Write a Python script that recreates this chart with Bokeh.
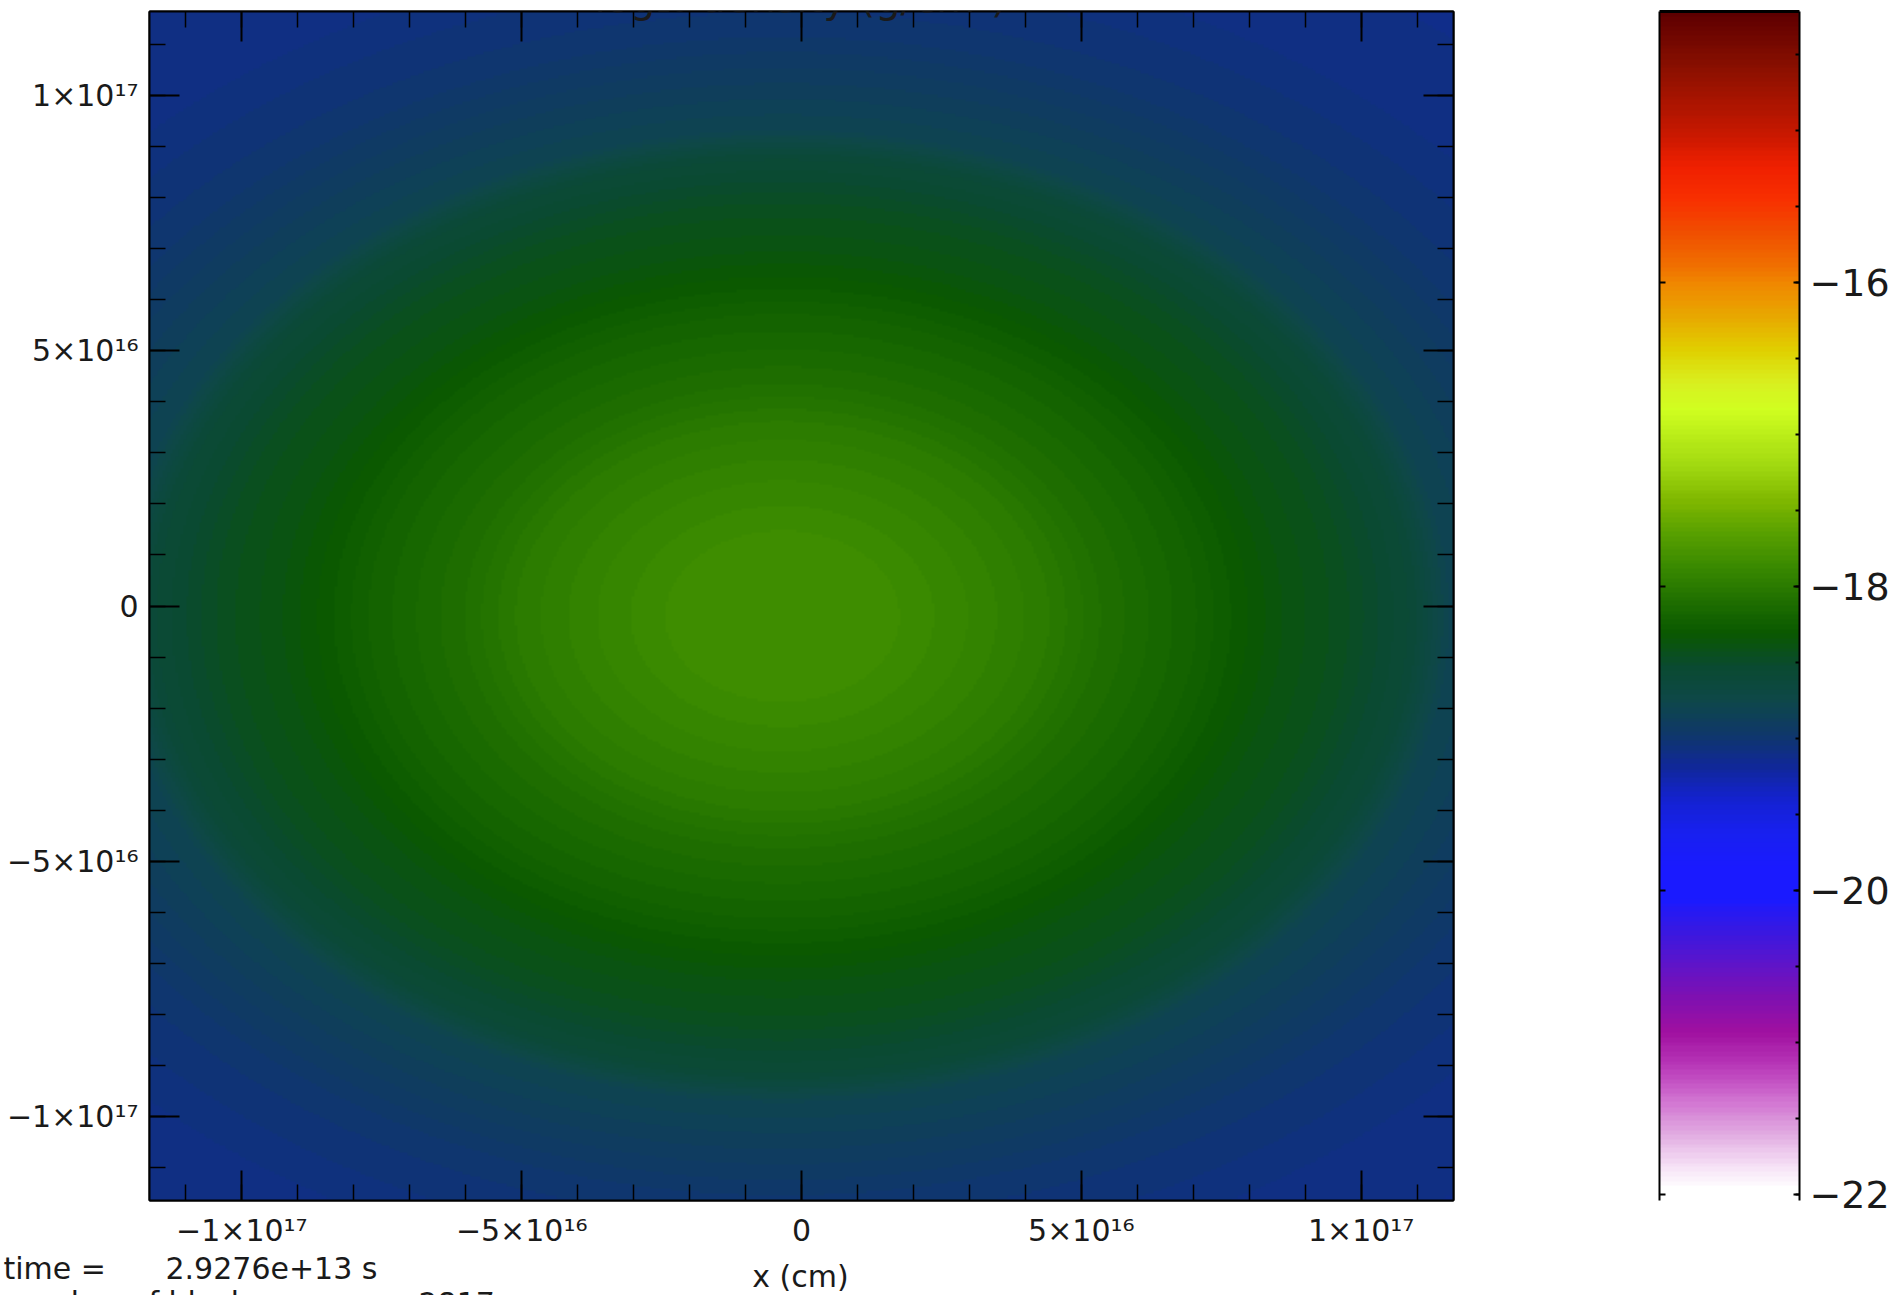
import numpy as np
from bokeh.plotting import figure
from bokeh.models import (LinearColorMapper, LinearAxis, FixedTicker,
                          CustomJSTickFormatter, Label, Range1d)
from bokeh.layouts import row, column
from bokeh.embed import file_html
from bokeh.resources import INLINE

# ---------------- data ----------------
title_text = "log₁₀ density (g/cm³)"
x_label = "x (cm)"
time_label = "time ="
time_value = "2.9276e+13 s"
blocks_label = "number of blocks ="
blocks_value = "2817"

extent = 1.165e17            # half width of the shown domain (cm)
center_x = -3.4e15           # centre of the density peak (cm)
center_y = -2.0e15
axis_ratio = 1.25            # x semi-axis / y semi-axis of iso-density ellipses

# log10 density along the (x-equivalent) elliptical radius
profile_r = [0.0, 2.0e16, 3.4e16, 4.7e16, 5.7e16, 7.4e16, 9.0e16,
             1.0e17, 1.13e17, 1.19e17, 1.44e17, 1.65e17, 1.95e17]
profile_logrho = [-17.84, -17.85, -17.92, -18.00, -18.10, -18.22, -18.38,
                  -18.45, -18.60, -18.80, -19.00, -19.08, -19.12]

tick_values = [-1e17, -5e16, 0.0, 5e16, 1e17]
tick_labels = ["−1×10¹⁷", "−5×10¹⁶", "0", "5×10¹⁶", "1×10¹⁷"]
minor_values = [-1.1e17, -1.0e17, -9e16, -8e16, -7e16, -6e16, -5e16, -4e16,
                -3e16, -2e16, -1e16, 0.0, 1e16, 2e16, 3e16, 4e16, 5e16,
                6e16, 7e16, 8e16, 9e16, 1.0e17, 1.1e17]

cbar_low, cbar_high = -22.04, -14.22
cbar_ticks = [-22, -20, -18, -16]
cbar_tick_labels = ["−22", "−20", "−18", "−16"]
cbar_minor = [-22.0, -21.5, -21.0, -20.5, -20.0, -19.5, -19.0, -18.5, -18.0,
              -17.5, -17.0, -16.5, -16.0, -15.5, -15.0, -14.5]

# ---------------- colour table (style) ----------------
anchors = [
    (-22.05, "#ffffff"), (-21.98, "#ffffff"), (-21.83, "#f5e0f5"),
    (-21.61, "#e0a8e0"), (-21.39, "#d070d0"), (-21.17, "#b838b8"),
    (-20.95, "#a010a0"), (-20.73, "#8010b0"), (-20.51, "#6014c8"),
    (-20.29, "#3a18e0"), (-20.07, "#1a1aff"), (-19.87, "#1a1aff"),
    (-19.63, "#1820f0"), (-19.41, "#1422d0"), (-19.19, "#102898"),
    (-18.97, "#0f3868"), (-18.75, "#0e4848"), (-18.53, "#0a4a30"),
    (-18.31, "#0a5800"), (-18.09, "#207000"), (-17.87, "#3a8a00"),
    (-17.65, "#58a000"), (-17.43, "#80b800"), (-17.21, "#a0d810"),
    (-16.83, "#d0ff20"), (-16.66, "#d8f020"), (-16.44, "#e0d000"),
    (-16.22, "#e8a800"), (-16.00, "#f08800"), (-15.89, "#f07000"),
    (-15.67, "#f05000"), (-15.45, "#f83000"), (-15.23, "#f02000"),
    (-15.01, "#c81800"), (-14.57, "#8a1000"), (-14.23, "#600000"),
    (-14.20, "#580000"),
]


def hex2rgb(h):
    return [int(h[i:i + 2], 16) for i in (1, 3, 5)]


av = np.array([a[0] for a in anchors])
ac = np.array([hex2rgb(a[1]) for a in anchors], dtype=float)
levels = np.linspace(cbar_low, cbar_high, 256)
palette = []
for v in levels:
    r, g, b = (int(round(np.interp(v, av, ac[:, k]))) for k in range(3))
    palette.append("#%02x%02x%02x" % (r, g, b))

mapper = LinearColorMapper(palette=palette, low=cbar_low, high=cbar_high)

# ---------------- field ----------------
N = 500
xs = np.linspace(-extent, extent, N)
ys = np.linspace(-extent, extent, N)
X, Y = np.meshgrid(xs, ys)
R = np.hypot(X - center_x, (Y - center_y) * axis_ratio)
Z = np.interp(R, profile_r, profile_logrho)

# ---------------- layout constants ----------------
FONT = "DejaVu Sans"
TXT = "#1a1a1a"
PAGE_W, PAGE_H = 1899, 1295
FIG_H = 1250
BL, BR, BT = 149, 17, 11
FW, FH = 1304, 1189
BB = FIG_H - BT - FH
W1 = BL + FW + BR


def sx(px):  # page x -> data x of the main plot
    return -extent + (px - BL) * (2 * extent) / FW


def sy(py):  # page y -> data y of the main plot
    return extent - (py - BT) * (2 * extent) / FH


p = figure(width=W1, height=FIG_H,
           x_range=Range1d(-extent, extent), y_range=Range1d(-extent, extent),
           x_axis_type=None, y_axis_type=None,
           min_border_left=BL, min_border_right=BR,
           min_border_top=BT, min_border_bottom=BB,
           output_backend="svg", toolbar_location=None)
p.grid.visible = False
p.outline_line_color = "black"
p.outline_line_width = 2
p.background_fill_color = "white"
p.border_fill_color = "white"

p.image(image=[Z], x=-extent, y=-extent, dw=2 * extent, dh=2 * extent,
        color_mapper=mapper)

fmt_code = ("const i = vals.findIndex(v => Math.abs(v - tick) < 1e12);"
            "return i >= 0 ? labs[i] : '';")


def make_axis(show_labels):
    ax = LinearAxis(ticker=FixedTicker(ticks=tick_values, minor_ticks=minor_values),
                    formatter=CustomJSTickFormatter(args=dict(vals=tick_values, labs=tick_labels),
                                                    code=fmt_code))
    ax.major_tick_in = 30
    ax.major_tick_out = 0
    ax.minor_tick_in = 16
    ax.minor_tick_out = 0
    ax.axis_line_color = "black"
    ax.axis_line_width = 2
    ax.major_tick_line_color = "black"
    ax.major_tick_line_width = 2
    ax.minor_tick_line_color = "black"
    ax.minor_tick_line_width = 1.5
    ax.major_label_text_font = FONT
    ax.major_label_text_color = TXT
    if show_labels:
        ax.major_label_text_font_size = "30px"
        ax.major_label_standoff = 12
    else:
        ax.major_label_text_font_size = "0px"
        ax.major_label_standoff = 0
    return ax


xb = make_axis(True)
xb.major_label_standoff = 12
p.add_layout(xb, "below")
yl = make_axis(True)
yl.major_label_standoff = 11
p.add_layout(yl, "left")
p.add_layout(make_axis(False), "above")
p.add_layout(make_axis(False), "right")

# title: the reference shows only its lowest part, cut at the top edge
p.add_layout(Label(x=sx(800), y=sy(-3), text=title_text, text_align="center",
                   text_baseline="alphabetic", text_font=FONT, text_font_size="40px",
                   text_color=TXT))

# ---------------- colour bar ----------------
CB_L, CB_W = 189, 140
CB_R = PAGE_W - W1 - CB_L - CB_W
cb = figure(width=CB_L + CB_W + CB_R, height=FIG_H,
            x_range=Range1d(0, 1), y_range=Range1d(cbar_low, cbar_high),
            x_axis_type=None, y_axis_type=None,
            min_border_left=CB_L, min_border_right=CB_R,
            min_border_top=BT, min_border_bottom=BB,
            output_backend="svg", toolbar_location=None)
cb.grid.visible = False
cb.outline_line_color = None
cb.border_fill_color = "white"
grad = np.linspace(cbar_low, cbar_high, 700).reshape(-1, 1)
cb.image(image=[grad], x=0, y=cbar_low, dw=1, dh=cbar_high - cbar_low,
         color_mapper=mapper)


def cb_axis(show_labels):
    ax = LinearAxis(ticker=FixedTicker(ticks=cbar_ticks,
                                       minor_ticks=cbar_minor if show_labels else []),
                    major_label_overrides={t: s for t, s in zip(cbar_ticks, cbar_tick_labels)})
    ax.major_tick_in = 6
    ax.major_tick_out = 0
    ax.minor_tick_in = 4
    ax.minor_tick_out = 0
    ax.axis_line_color = "black"
    ax.axis_line_width = 2
    ax.major_tick_line_color = "black"
    ax.major_tick_line_width = 2
    ax.minor_tick_line_color = "black"
    ax.minor_tick_line_width = 2
    ax.major_label_text_font = FONT
    ax.major_label_text_color = TXT
    if show_labels:
        ax.major_label_text_font_size = "38px"
        ax.major_label_standoff = 10
    else:
        ax.major_label_text_font_size = "0px"
        ax.major_label_standoff = 0
    return ax


cb.add_layout(cb_axis(True), "right")
cb.add_layout(cb_axis(False), "left")
top = LinearAxis(ticker=FixedTicker(ticks=[]), axis_line_color="black",
                 axis_line_width=3, major_label_text_font_size="0px",
                 major_label_standoff=0, major_tick_out=0, major_tick_in=0,
                 minor_tick_out=0, minor_tick_in=0)
cb.add_layout(top, "above")

# ---------------- text strip under the plots (page-pixel coordinates) ----------------
tf = figure(width=PAGE_W, height=PAGE_H - FIG_H,
            x_range=Range1d(0, PAGE_W), y_range=Range1d(PAGE_H, FIG_H),
            x_axis_type=None, y_axis_type=None, min_border=0,
            output_backend="svg", toolbar_location=None)
tf.grid.visible = False
tf.outline_line_color = None
tf.border_fill_color = "white"
tf.background_fill_color = "white"


def txt(x, y, s, align="left"):
    tf.add_layout(Label(x=x, y=y, text=s, text_align=align, text_baseline="middle",
                        text_font=FONT, text_font_size="30px", text_color=TXT))


txt(3, 1268, time_label)
txt(165, 1268, time_value)
txt(800, 1276, x_label, "center")
# the reference shows this line cut by the bottom edge of the window
txt(3, 1302, blocks_label)
txt(418, 1302, blocks_value)

layout = column(row(p, cb), tf)
open("out.html", "w").write(file_html(layout, INLINE))
